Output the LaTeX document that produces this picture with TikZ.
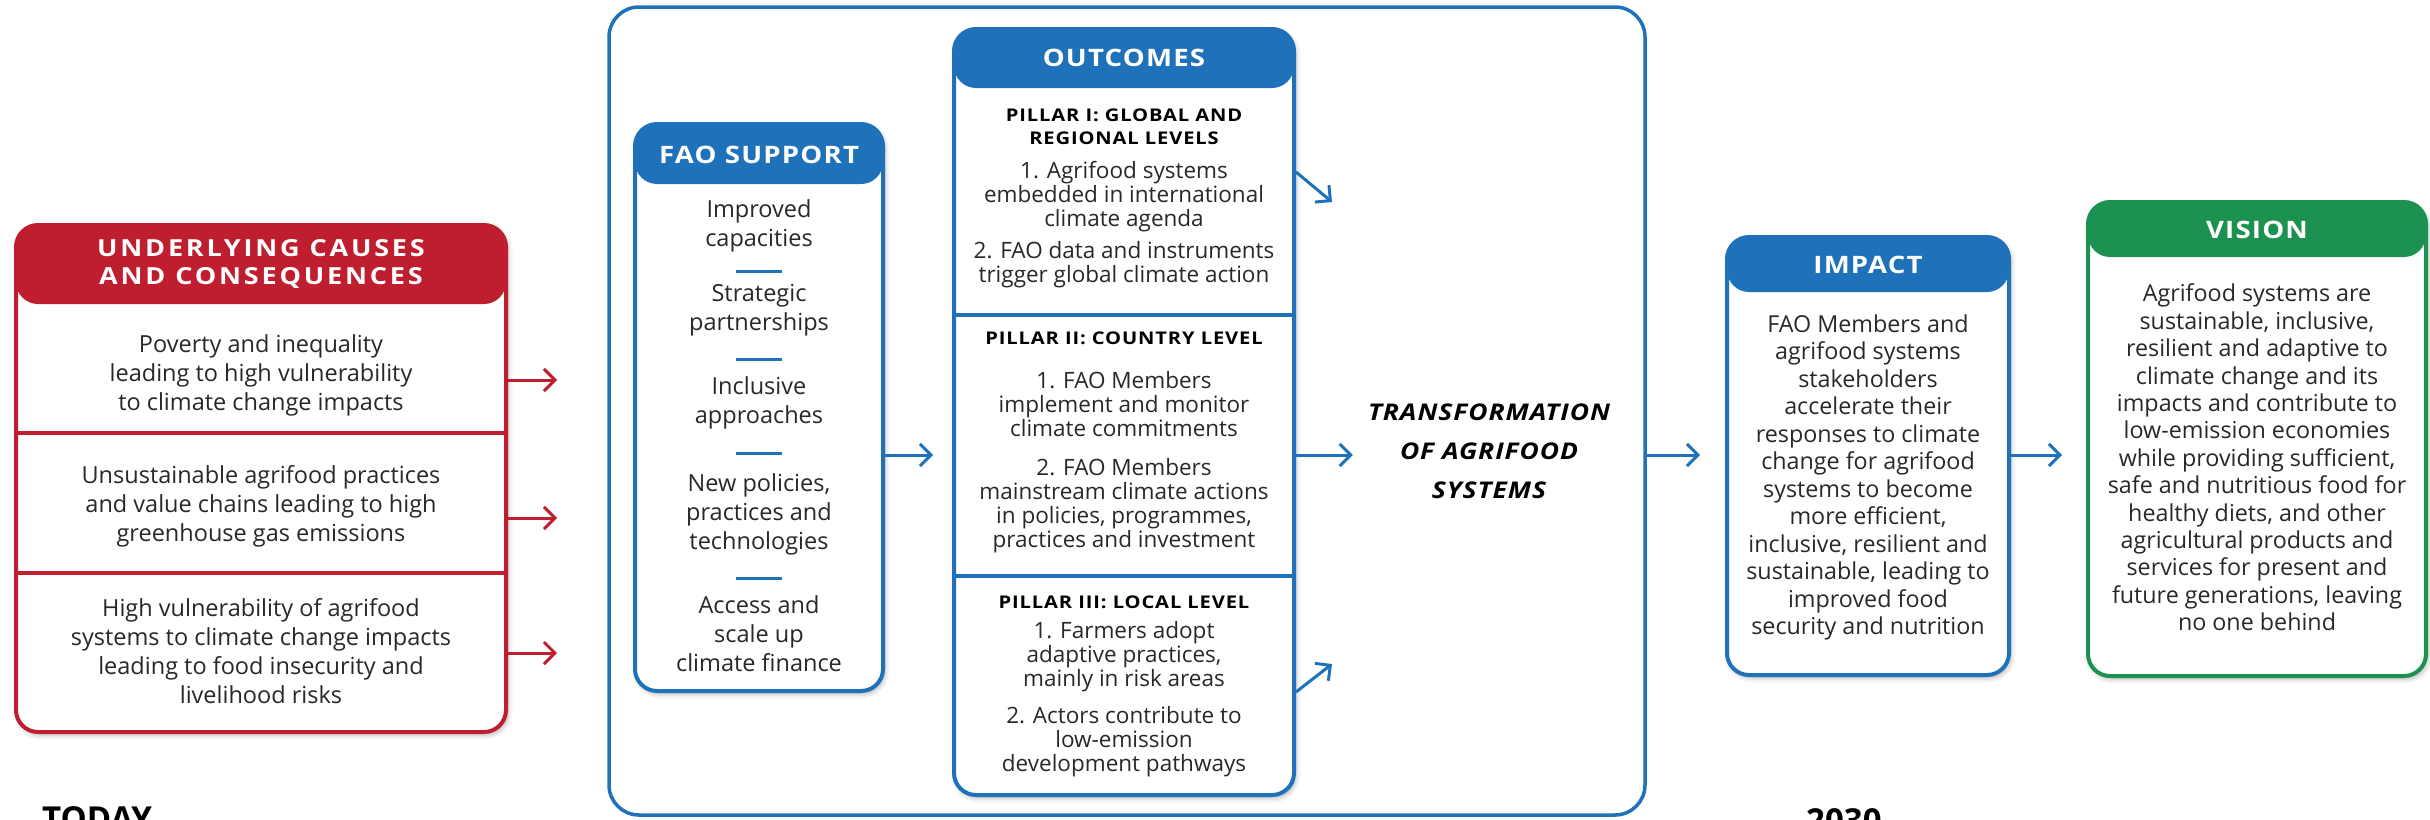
\documentclass[tikz,border=0pt]{standalone}
\usepackage{fontspec}
\setmainfont{Open Sans}
\newfontfamily\headfont[FakeStretch=1.15, LetterSpace=5]{Open Sans}
\newfontfamily\plainfont{Open Sans}
\usetikzlibrary{arrows.meta,shadows.blur}

\definecolor{faored}{RGB}{190,30,45}
\definecolor{faoblue}{RGB}{31,114,186}
\definecolor{faogreen}{RGB}{29,145,80}
\definecolor{txt}{RGB}{40,40,40}

\begin{document}
\begin{tikzpicture}[x=1pt, y=-1pt,
    panel/.style={draw=#1, line width=4pt, fill=white, rounded corners=22pt, inner sep=0pt,
      blur shadow={shadow xshift=2pt, shadow yshift=-3pt, shadow blur radius=5pt, shadow opacity=30}},
    header/.style 2 args={path picture={\fill[#1] (path picture bounding box.north west) rectangle ([yshift=-#2]path picture bounding box.north east);}},
    headtext/.style={text=white, inner sep=0pt, align=center, font=\headfont\bfseries\fontsize{24}{28}\selectfont},
    bodytext/.style={text=txt, inner sep=0pt, align=center, font=\fontsize{23.5}{29}\selectfont},
    pillartext/.style={text=txt, inner sep=0pt, align=center, font=\fontsize{22.5}{24}\selectfont},
    pillartitle/.style={text=black, inner sep=0pt, align=center, font=\headfont\bfseries\fontsize{17.5}{23}\selectfont},
    flow/.style={line width=3pt, -{Straight Barb[length=11pt, width=22pt]}},
    dashline/.style={faoblue, line width=3pt}]
  \useasboundingbox (0,0) rectangle (2430,819);

  % frame round support and outcomes
  \node[draw=faoblue, line width=3.5pt, rounded corners=30pt, minimum width=1036pt, minimum height=808pt, inner sep=0pt] (frame) at (1127,411) {};

  % causes
  \node[panel=faored, header={faored}{79pt}, minimum width=490pt, minimum height=507pt] (causes) at (261,478.5) {};
  \node[headtext, font=\headfont\bfseries\fontsize{23.5}{28}\selectfont\addfontfeature{LetterSpace=12}] (causes-h) at (261,264) {UNDERLYING CAUSES\\AND CONSEQUENCES};
  \node[bodytext] (cause1) at (261,375) {Poverty and inequality\\leading to high vulnerability\\to climate change impacts};
  \node[bodytext] (cause2) at (261,506) {Unsustainable agrifood practices\\and value chains leading to high\\greenhouse gas emissions};
  \node[bodytext] (cause3) at (261,651) {High vulnerability of agrifood\\systems to climate change impacts\\leading to food insecurity and\\livelihood risks};
  \coordinate (div1) at (0,433);
  \coordinate (div2) at (0,573);
  \draw[faored, line width=4pt] (causes.west |- div1) -- (causes.east |- div1);
  \draw[faored, line width=4pt] (causes.west |- div2) -- (causes.east |- div2);
  \coordinate (c1) at (557,380);
  \coordinate (c2) at (557,518);
  \coordinate (c3) at (557,653);
  \foreach \c in {c1,c2,c3}
    \draw[flow, faored] (causes.east |- \c) -- (\c);

  % fao support
  \node[panel=faoblue, header={faoblue}{60pt}, minimum width=248pt, minimum height=567pt] (fao) at (759,407.5) {};
  \node[headtext] (fao-h) at (759,155) {FAO SUPPORT};
  \node[bodytext] (s1) at (759,226) {Improved\\capacities};
  \node[bodytext] (s2) at (759,310.5) {Strategic\\partnerships};
  \node[bodytext] (s3) at (759,403) {Inclusive\\approaches};
  \node[bodytext] (s4) at (759,514) {New policies,\\practices and\\technologies};
  \node[bodytext] (s5) at (759,634) {Access and\\scale up\\climate finance};
  \foreach \y in {271,359,453,578}
    \draw[dashline] (736,\y) -- (782,\y);

  % outcomes
  \node[panel=faoblue, header={faoblue}{59pt}, minimum width=340pt, minimum height=766pt] (outcomes) at (1124,412) {};
  \node[headtext] (outcomes-h) at (1124,57.5) {OUTCOMES};
  \coordinate (div3) at (0,315);
  \coordinate (div4) at (0,576);
  \draw[faoblue, line width=4pt] (outcomes.west |- div3) -- (outcomes.east |- div3);
  \draw[faoblue, line width=4pt] (outcomes.west |- div4) -- (outcomes.east |- div4);
  \node[pillartitle] (p1) at (1124,126.5) {PILLAR I: GLOBAL AND\\REGIONAL LEVELS};
  \node[pillartext] (p1a) at (1124,197) {1. Agrifood systems\\embedded in international\\climate agenda};
  \node[pillartext] (p1b) at (1124,265) {2. FAO data and instruments\\trigger global climate action};
  \node[pillartitle] (p2) at (1124,338) {PILLAR II: COUNTRY LEVEL};
  \node[pillartext] (p2a) at (1124,403.7) {1. FAO Members\\implement and monitor\\climate commitments};
  \node[pillartext] (p2b) at (1124,505.5) {2. FAO Members\\mainstream climate actions\\in policies, programmes,\\practices and investment};
  \node[pillartitle] (p3) at (1124,602) {PILLAR III: LOCAL LEVEL};
  \node[pillartext] (p3a) at (1124,656.3) {1. Farmers adopt\\adaptive practices,\\mainly in risk areas};
  \node[pillartext] (p3b) at (1124,741.3) {2. Actors contribute to\\low-emission\\development pathways};

  % transformation
  \node[text=black, inner sep=0pt, align=center, font=\headfont\bfseries\itshape\fontsize{23}{39}\selectfont\addfontfeature{LetterSpace=4}] (trans) at (1489,451) {TRANSFORMATION\\OF AGRIFOOD\\SYSTEMS};

  % impact
  \node[panel=faoblue, header={faoblue}{55pt}, minimum width=282pt, minimum height=438pt] (impact) at (1868,456) {};
  \node[headtext] (impact-h) at (1868,265) {IMPACT};
  \node[bodytext, font=\fontsize{23.3}{27.5}\selectfont] (impact-t) at (1868,477.5) {FAO Members and\\agrifood systems\\stakeholders\\accelerate their\\responses to climate\\change for agrifood\\systems to become\\more efficient,\\inclusive, resilient and\\sustainable, leading to\\improved food\\security and nutrition};

  % vision
  \node[panel=faogreen, header={faogreen}{55pt}, minimum width=338pt, minimum height=474pt] (vision) at (2257,439) {};
  \node[headtext] (vision-h) at (2257,230) {VISION};
  \node[bodytext, font=\fontsize{23.3}{27.4}\selectfont] (vision-t) at (2257,457.5) {Agrifood systems are\\sustainable, inclusive,\\resilient and adaptive to\\climate change and its\\impacts and contribute to\\low-emission economies\\while providing sufficient,\\safe and nutritious food for\\healthy diets, and other\\agricultural products and\\services for present and\\future generations, leaving\\no one behind};

  % arrows
  \coordinate (lvl) at (0,455);
  \draw[flow, faoblue, shorten >=19pt] (fao.east |- lvl) -- (outcomes.west |- lvl);
  \draw[flow, faoblue, shorten >=15pt] (outcomes.east |- lvl) -- (trans.west |- lvl);
  \draw[flow, faoblue, shorten >=25pt] (frame.east |- lvl) -- (impact.west |- lvl);
  \draw[flow, faoblue, shorten >=24pt] (impact.east |- lvl) -- (vision.west |- lvl);
  \coordinate (up) at (1332,202);
  \coordinate (down) at (1332,664);
  \draw[flow, faoblue] ([yshift=240pt]outcomes.east) -- (up);
  \draw[flow, faoblue] ([yshift=-280pt]outcomes.east) -- (down);

  % time labels
  \node[anchor=north west, inner sep=0pt, font=\plainfont\bfseries\fontsize{33}{36}\selectfont] (today) at (42,806) {TODAY};
  \node[anchor=north west, inner sep=0pt, font=\plainfont\bfseries\fontsize{33}{36}\selectfont] (year) at (1806,808) {2030};
\end{tikzpicture}
\end{document}
